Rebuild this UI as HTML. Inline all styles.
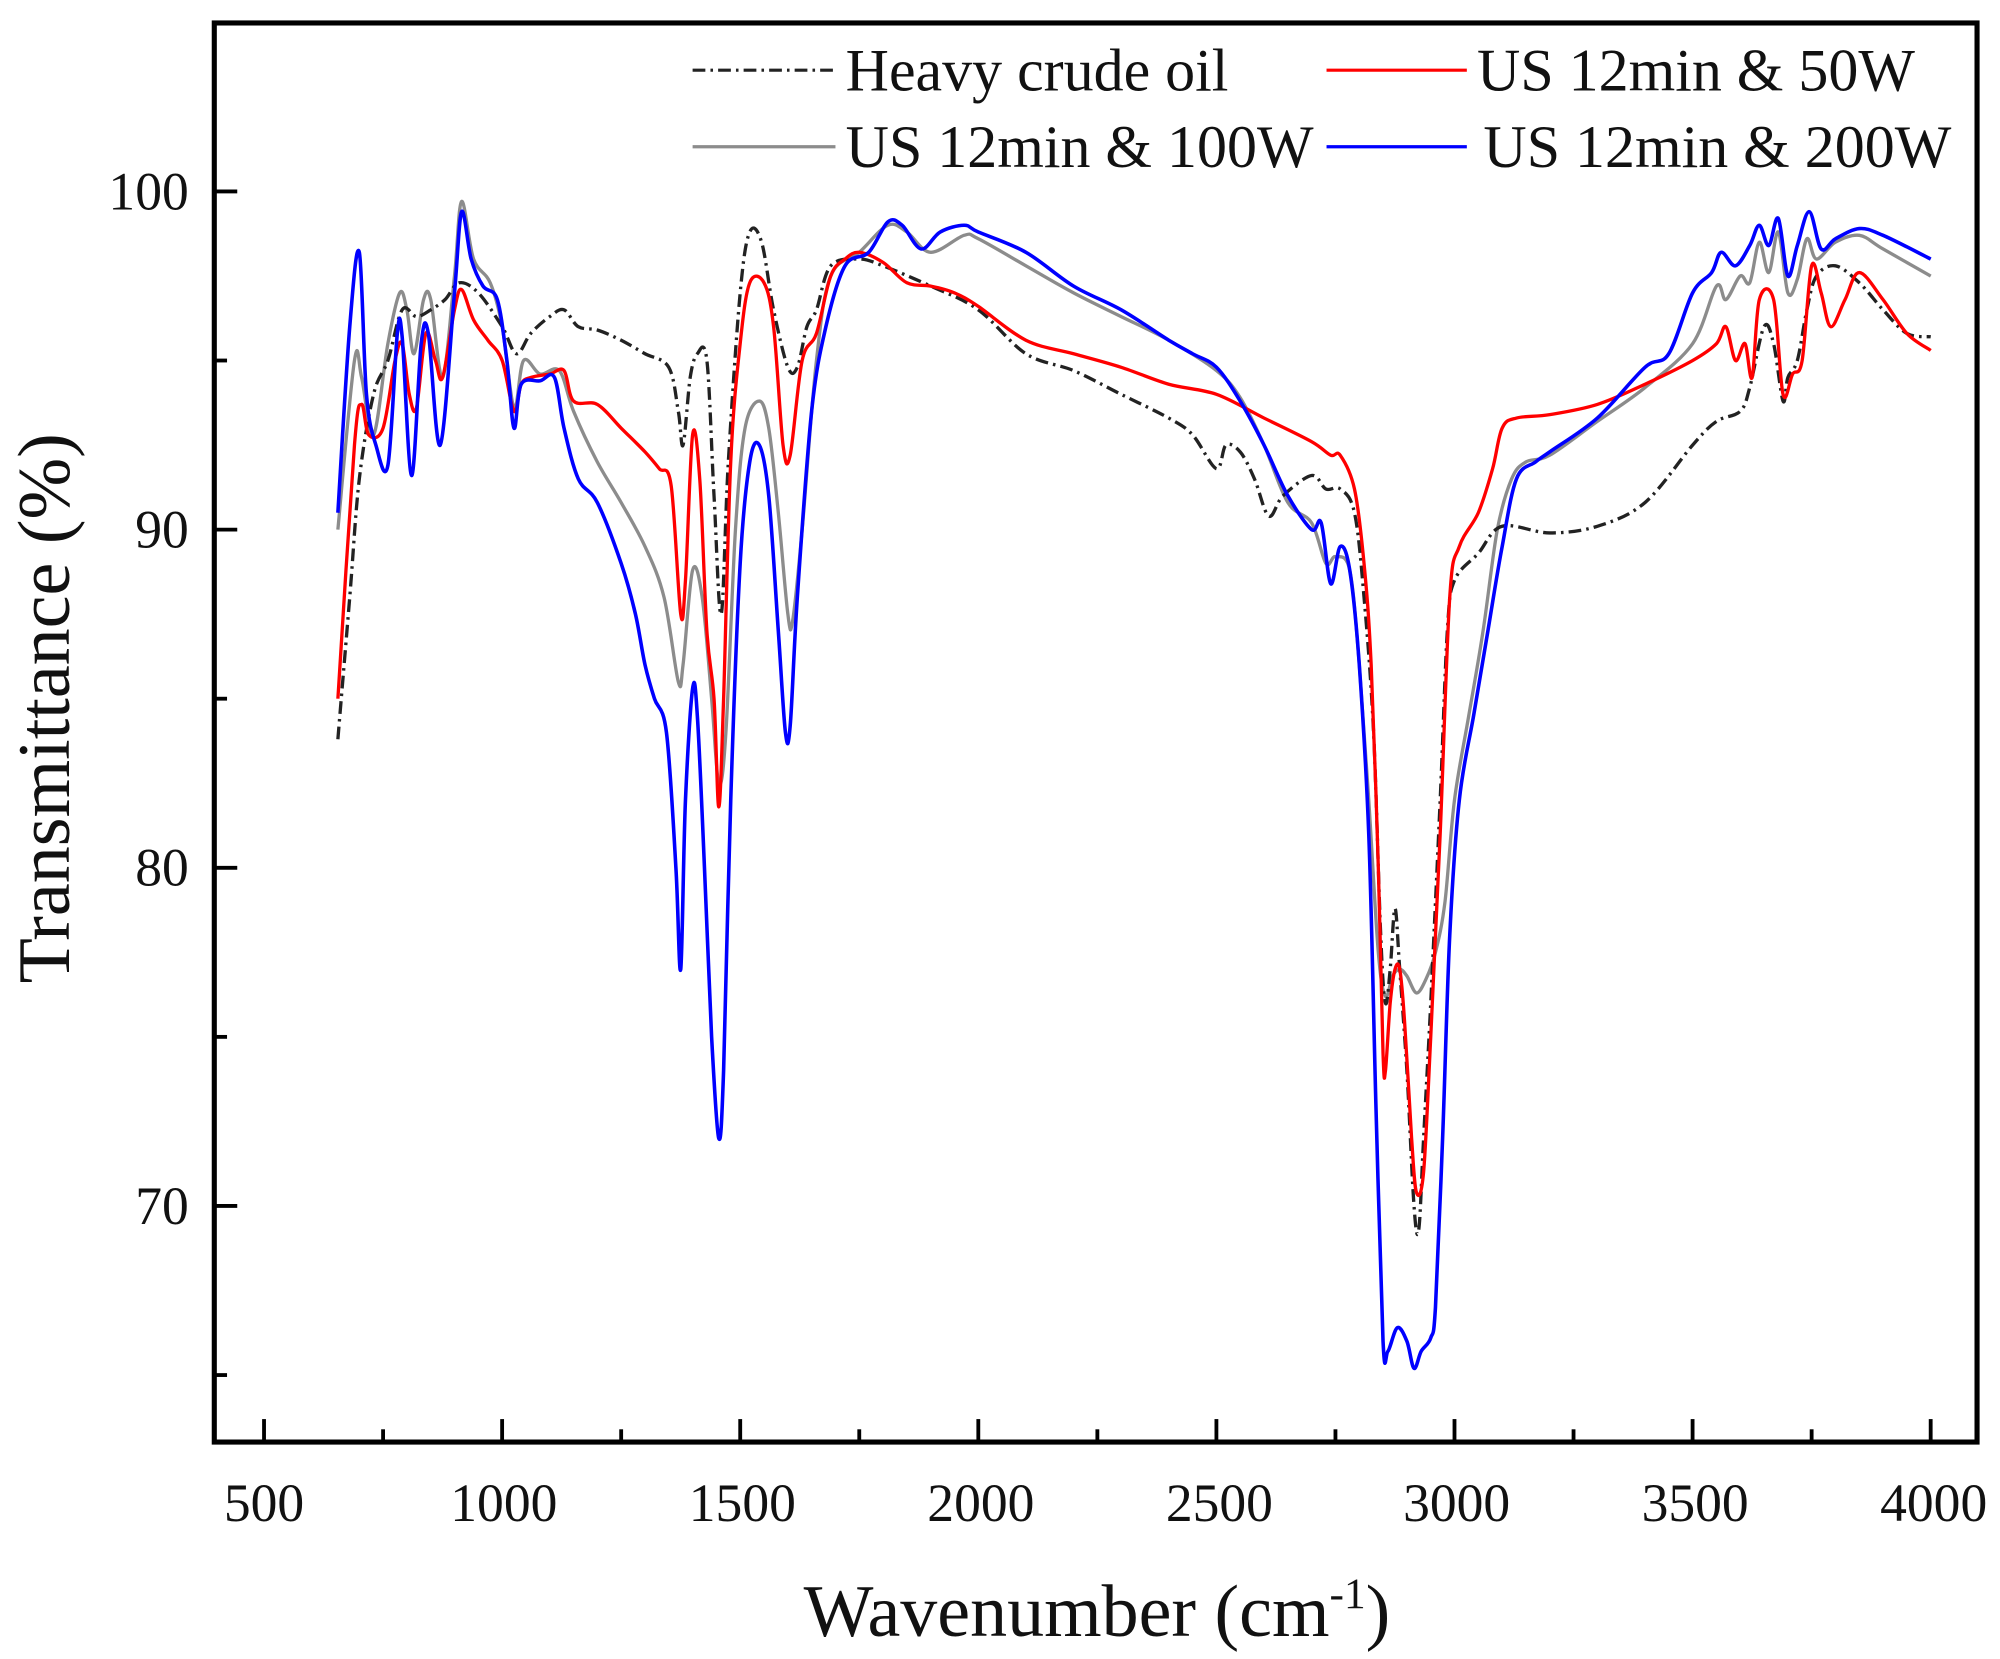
<!DOCTYPE html>
<html><head><meta charset="utf-8"><style>
html,body{margin:0;padding:0;background:#fff;}
svg{display:block;}
text{font-family:"Liberation Serif",serif;fill:#111;}
</style></head><body>
<svg id="s" width="2000" height="1659" viewBox="0 0 1568 1300" preserveAspectRatio="none" xmlns="http://www.w3.org/2000/svg">
<rect x="0" y="0" width="1568" height="1300" fill="#fff"/>
<g id="series"></g>
<rect x="168" y="18" width="1382" height="1112" fill="none" stroke="#000" stroke-width="4"/>
<g id="ticks" stroke="#000" stroke-width="3"></g>
<g font-size="42" text-anchor="middle">
<text x="207" y="1192">500</text><text x="395" y="1192">1000</text><text x="582" y="1192">1500</text><text x="769" y="1192">2000</text><text x="956" y="1192">2500</text><text x="1142" y="1192">3000</text><text x="1329" y="1192">3500</text><text x="1516" y="1192">4000</text>
</g>
<g font-size="42" text-anchor="end">
<text x="148" y="164">100</text><text x="148" y="429">90</text><text x="148" y="694">80</text><text x="148" y="959">70</text>
</g>
<text x="860" y="1282" font-size="58" text-anchor="middle">Wavenumber (cm<tspan font-size="34" dy="-22">-1</tspan><tspan dy="22">)</tspan></text>
<text transform="translate(54,555) rotate(-90)" font-size="58" text-anchor="middle">Transmittance (%)</text>
<g font-size="47">
<line x1="543" y1="55" x2="655" y2="55" stroke="#222" stroke-width="2.5" stroke-dasharray="10 4 2 4"/>
<text x="663" y="71">Heavy crude oil</text>
<line x1="1040" y1="55" x2="1150" y2="55" stroke="#f00" stroke-width="2.5"/>
<text x="1158" y="71">US 12min &amp; 50W</text>
<line x1="543" y1="115" x2="655" y2="115" stroke="#8c8c8c" stroke-width="2.5"/>
<text x="663" y="131">US 12min &amp; 100W</text>
<line x1="1040" y1="115" x2="1150" y2="115" stroke="#00f" stroke-width="2.5"/>
<text x="1163" y="131">US 12min &amp; 200W</text>
</g>
</svg>
<script>
function X(w){return 207+(w-500)*0.37333;}
function Y(v){return 150+(100-v)*26.5;}
var ticks=document.getElementById('ticks'),h='';
for(var w=500;w<=4000;w+=250){var L=(w%500==0)?18:10;h+='<line x1="'+X(w)+'" y1="1130" x2="'+X(w)+'" y2="'+(1130-L)+'"/>';}
for(var v=65;v<=100;v+=5){var L=(v%10==0)?18:10;h+='<line x1="168" y1="'+Y(v)+'" x2="'+(168+L)+'" y2="'+Y(v)+'"/>';}
ticks.innerHTML=h;
var black=[655,83.8,680,88,700,91.5,730,94,760,95,790,96.5,820,96.3,850,96.5,880,96.8,910,97.3,950,97,1000,96,1030,95.2,1060,95.8,1100,96.3,1130,96.5,1160,96,1200,95.9,1250,95.6,1300,95.2,1350,94.8,1370,93.5,1380,92.5,1395,94.5,1410,95.2,1430,95,1445,91,1460,87.5,1475,92,1500,97,1520,98.8,1545,98.5,1570,96.5,1600,94.8,1620,94.8,1640,96,1660,96.5,1690,97.8,1750,98,1800,97.8,1900,97.2,2000,96.5,2100,95.2,2200,94.7,2300,94,2400,93.3,2450,92.8,2500,91.8,2520,92.5,2550,92.3,2580,91.5,2610,90.4,2640,91,2700,91.6,2730,91.2,2760,91.2,2790,90.5,2810,88,2830,84,2845,78,2855,76,2865,77,2875,78.8,2885,77,2900,74,2915,70,2925,69.3,2935,72,2950,76,2970,82,2985,87,3000,88.5,3050,89.3,3100,90.1,3200,89.9,3300,90.1,3400,90.8,3500,92.5,3550,93.2,3600,93.5,3620,94.2,3650,96,3670,95.5,3690,93.8,3700,94.5,3720,95,3740,96.5,3760,97.5,3800,97.8,3850,97.3,3900,96.5,3950,95.8,4000,95.7];
var red=[655,85,690,92.5,705,93.7,720,92.8,750,93,775,95,790,95.5,805,94,820,93.6,840,95.8,860,95,875,94.5,900,96.5,915,97.1,940,96.2,970,95.6,1000,95,1025,93.5,1040,94.3,1060,94.5,1100,94.6,1130,94.7,1150,93.8,1200,93.7,1250,93,1300,92.3,1330,91.8,1355,91.3,1375,87.5,1385,88.5,1400,92.8,1415,91.5,1430,87,1445,85,1455,81.8,1465,85,1480,92,1500,95.5,1520,97.3,1550,97.3,1570,96,1590,92.5,1605,92.2,1630,95,1660,95.8,1690,97.5,1720,98,1750,98.2,1800,97.9,1850,97.3,1900,97.2,1950,97,2000,96.6,2100,95.6,2200,95.2,2300,94.8,2400,94.3,2500,94,2600,93.3,2700,92.6,2740,92.2,2760,92.2,2790,91.2,2810,89,2825,86,2840,80,2850,74.5,2855,74,2865,76,2875,77,2885,77,2895,75.5,2910,72,2920,70.4,2935,71,2950,75,2970,81,2990,88,3010,89.5,3050,90.5,3080,91.8,3100,93,3130,93.3,3200,93.4,3300,93.7,3400,94.3,3500,95,3550,95.5,3570,96,3590,95,3610,95.5,3625,94.5,3640,96.8,3670,96.8,3690,94,3710,94.6,3730,95,3750,97.8,3770,97,3790,96,3820,96.8,3850,97.6,3900,96.8,3950,95.8,4000,95.3];
var gray=[655,90,690,95,705,94.5,730,92.8,760,95.5,785,97,800,96.5,815,95.2,835,96.8,850,96.8,875,94.5,900,97.5,915,99.7,940,98,975,97.3,1000,96,1025,93.6,1045,95,1080,94.6,1120,94.7,1150,93.5,1200,92,1250,90.8,1300,89.5,1340,88,1370,85.5,1380,86,1400,88.8,1420,88,1440,85,1455,82.5,1470,84,1490,90,1510,93,1540,93.8,1560,93,1580,90.5,1600,87.5,1610,87.3,1630,90,1660,95,1690,97.5,1750,98.2,1810,99,1850,98.8,1900,98.2,1970,98.7,2000,98.6,2100,97.8,2200,97,2300,96.3,2400,95.6,2500,94.7,2550,93.9,2600,92.5,2650,90.8,2700,90.2,2730,89,2750,89.2,2780,88.8,2800,86,2820,82,2840,77.5,2855,76.2,2870,76.8,2885,77,2900,76.8,2920,76.3,2940,76.7,2960,77.5,2980,79,3000,82,3030,84.5,3060,87,3090,90,3120,91.5,3150,92,3200,92.2,3300,93.2,3400,94.2,3500,95.5,3550,97.2,3570,96.8,3600,97.5,3620,97.3,3640,98.5,3660,97.6,3680,98.8,3700,97,3720,97.4,3740,98.6,3760,98,3800,98.5,3850,98.7,3900,98.3,4000,97.5];
var blue=[655,90.5,680,96,700,98.2,715,94,735,92.5,760,91.9,780,95.8,790,95.7,810,91.6,830,95.5,845,95.8,870,92.5,900,97,915,99.4,935,98,960,97.2,990,96.8,1010,95,1025,93,1040,94.3,1080,94.4,1110,94.5,1130,93,1160,91.5,1200,90.8,1250,89,1280,87.5,1300,86,1320,85,1345,84,1365,80,1375,77,1385,82,1400,85.3,1410,84.5,1425,80,1440,75,1455,72,1465,74,1480,82,1500,89,1520,92,1540,92.5,1560,91,1580,87,1595,84,1605,84.2,1620,88,1650,93.5,1680,96,1720,97.8,1770,98.2,1810,99.1,1840,99,1880,98.3,1920,98.8,1970,99,2000,98.8,2100,98.2,2200,97.2,2300,96.5,2400,95.6,2450,95.2,2500,94.8,2550,93.8,2600,92.5,2650,91,2700,90,2720,90.2,2740,88.4,2760,89.5,2780,88.8,2800,86,2820,81,2835,73,2850,66,2860,65.7,2880,66.4,2900,66,2915,65.2,2930,65.7,2950,66.1,2960,67,2975,72,2990,78,3010,82,3040,84.5,3070,87,3100,89.5,3130,91.5,3170,92,3200,92.3,3300,93.3,3400,94.8,3450,95.2,3500,97,3540,97.6,3560,98.2,3590,97.8,3620,98.4,3640,99,3660,98.4,3680,99.2,3700,97.5,3720,98.4,3745,99.4,3770,98.3,3800,98.6,3850,98.9,3900,98.7,4000,98];
function path(a){var p=[];for(var i=0;i<a.length;i+=2)p.push([X(a[i]),Y(a[i+1])]);
var d='M'+p[0][0].toFixed(1)+','+p[0][1].toFixed(1);
for(var i=0;i<p.length-1;i++){var p0=p[i-1]||p[i],p1=p[i],p2=p[i+1],p3=p[i+2]||p2;
var c1x=p1[0]+(p2[0]-p0[0])/6,c1y=p1[1]+(p2[1]-p0[1])/6,c2x=p2[0]-(p3[0]-p1[0])/6,c2y=p2[1]-(p3[1]-p1[1])/6;
d+=' C'+c1x.toFixed(1)+','+c1y.toFixed(1)+' '+c2x.toFixed(1)+','+c2y.toFixed(1)+' '+p2[0].toFixed(1)+','+p2[1].toFixed(1);}
return d;}
var g=document.getElementById('series');
g.innerHTML='<path d="'+path(gray)+'" fill="none" stroke="#8c8c8c" stroke-width="2.6"/>'+
'<path d="'+path(black)+'" fill="none" stroke="#222" stroke-width="2.6" stroke-dasharray="10 4 2 4"/>'+
'<path d="'+path(red)+'" fill="none" stroke="#f00" stroke-width="2.6"/>'+
'<path d="'+path(blue)+'" fill="none" stroke="#00f" stroke-width="2.8"/>';
</script>
</body></html>
